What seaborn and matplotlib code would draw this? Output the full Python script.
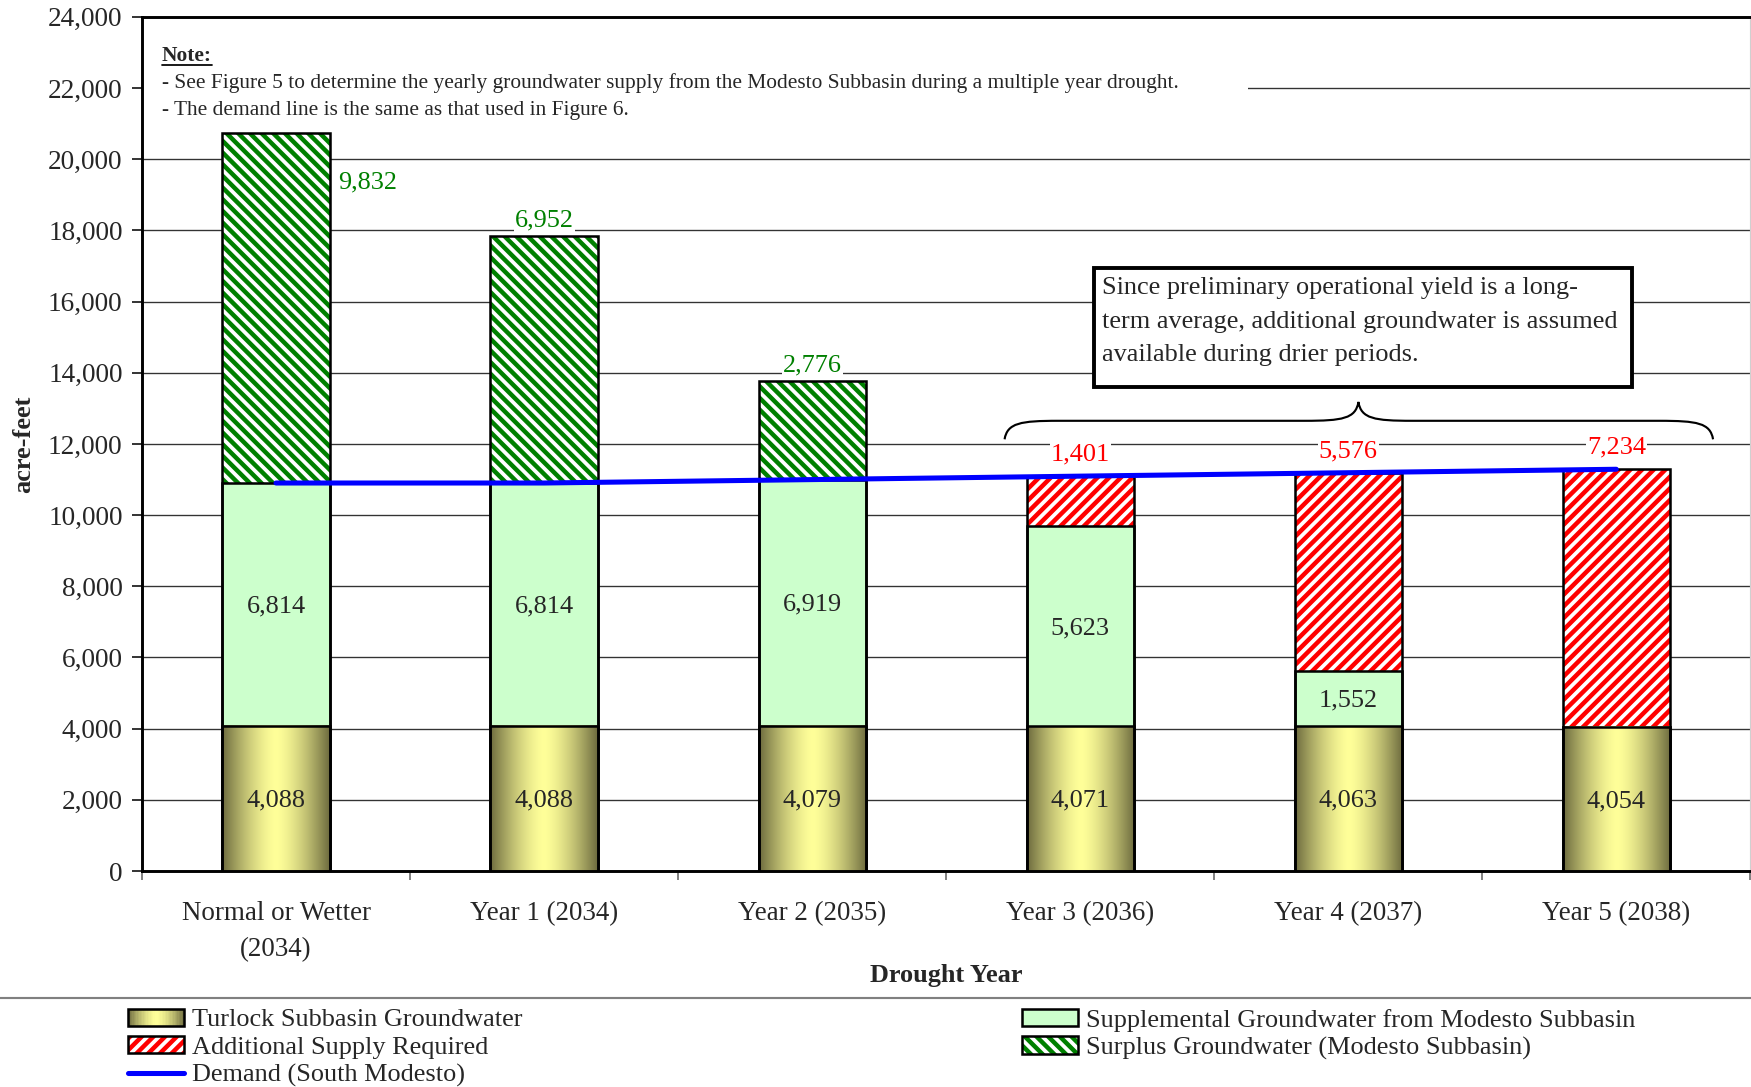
import numpy as np
import pandas as pd
import matplotlib
matplotlib.use("Agg")
import matplotlib.pyplot as plt
import seaborn as sns
from matplotlib.patches import Rectangle, Patch, PathPatch
from matplotlib.lines import Line2D
from matplotlib.path import Path
from matplotlib.legend_handler import HandlerBase, HandlerTuple
from matplotlib.ticker import FuncFormatter, FixedLocator

# ---- data (acre-feet) ----
categories = ["Normal or Wetter\n(2034)", "Year 1 (2034)", "Year 2 (2035)",
              "Year 3 (2036)", "Year 4 (2037)", "Year 5 (2038)"]
turlock = [4088, 4088, 4079, 4071, 4063, 4054]
supplemental = [6814, 6814, 6919, 5623, 1552, 0]
surplus = [9832, 6952, 2776, 0, 0, 0]
additional = [0, 0, 0, 1401, 5576, 7234]
yticks = list(range(0, 24001, 2000))

series_names = ["Turlock Subbasin Groundwater",
                "Supplemental Groundwater from Modesto Subbasin",
                "Additional Supply Required",
                "Surplus Groundwater (Modesto Subbasin)",
                "Demand (South Modesto)"]

note_lines = ["- See Figure 5 to determine the yearly groundwater supply from the Modesto Subbasin during a multiple year drought.",
              "- The demand line is the same as that used in Figure 6."]
box_text = ("Since preliminary operational yield is a long-\n"
            "term average, additional groundwater is assumed\n"
            "available during drier periods.")

# ---- derived stacks ----
df = pd.DataFrame({"cat": categories, "turlock": turlock, "supp": supplemental,
                   "surplus": surplus, "additional": additional})
df["base2"] = df["turlock"] + df["supp"]
df["demand"] = df["base2"] + df["additional"]
df["top"] = df["base2"] + df["surplus"] + df["additional"]

GREEN = "#008000"
RED = "#ff0000"
LIGHT_GREEN = "#ccffcc"
BLUE = "#0000ff"
EDGE_OLIVE = np.array([108, 106, 62]) / 255
MID_YELLOW = np.array([255, 255, 153]) / 255
HATCH_SURPLUS = "\\\\\\\\"
HATCH_ADDITIONAL = "////"

sns.set_style("white")
plt.rcParams["font.family"] = ["Liberation Serif", "DejaVu Serif"]
plt.rcParams["hatch.linewidth"] = 2.3

DPI = 140
fig = plt.figure(figsize=(1751 / DPI, 1087 / DPI), dpi=DPI)
ax = fig.add_axes([0.0811, 0.1987, 0.9185, 0.7858])

BAR_W = 0.4
EDGE_LW = 1.3

# top segment: hatched surplus / additional, full stack height
sns.barplot(x="cat", y="top", data=df, order=categories, color="white",
            saturation=1, width=BAR_W, linewidth=0, errorbar=None, ax=ax, zorder=2)
top_bars = ax.containers[-1]
for p, sp in zip(top_bars.patches, df["surplus"]):
    if sp > 0:
        p.set_hatch(HATCH_SURPLUS)
        p.set_edgecolor(GREEN)
    else:
        p.set_hatch(HATCH_ADDITIONAL)
        p.set_edgecolor(RED)
    p.set_linewidth(0)

# outline of the full stack
sns.barplot(x="cat", y="top", data=df, order=categories, color="black", fill=False,
            saturation=1, width=BAR_W, linewidth=EDGE_LW, errorbar=None, ax=ax, zorder=5)

# supplemental groundwater segment
sns.barplot(x="cat", y="base2", data=df, order=categories, color=LIGHT_GREEN,
            saturation=1, width=BAR_W, edgecolor="black", linewidth=EDGE_LW,
            errorbar=None, ax=ax, zorder=3)

# Turlock segment with a horizontal metallic gradient
sns.barplot(x="cat", y="turlock", data=df, order=categories, color="white",
            saturation=1, width=BAR_W, edgecolor="black", linewidth=EDGE_LW,
            errorbar=None, ax=ax, zorder=4)
t = np.linspace(-1, 1, 256)
w = 1 - np.abs(t) ** 1.5
grad = (EDGE_OLIVE[None, :] + (MID_YELLOW - EDGE_OLIVE)[None, :] * w[:, None])[None, :, :]
for p in ax.containers[-1].patches:
    x0, y0 = p.get_x(), p.get_y()
    ax.imshow(grad, extent=[x0, x0 + p.get_width(), y0, y0 + p.get_height()],
              aspect="auto", interpolation="bilinear", zorder=4.05)
    p.set_facecolor("none")
    p.set_zorder(4.1)

# demand line
sns.lineplot(x=np.arange(len(categories)), y=df["demand"].values, color=BLUE,
             linewidth=2.6, ax=ax, zorder=6)

ax.set_xlim(-0.5, len(categories) - 0.5)
ax.set_ylim(0, 24000)

# ---- value labels ----
FS = 13.5
for i, r in df.iterrows():
    ax.text(i, r["turlock"] / 2 - 60, f"{r['turlock']:,}", ha="center", va="center",
            fontsize=FS, zorder=7)
    if r["supp"] > 0:
        ax.text(i, r["turlock"] + r["supp"] / 2 - 60, f"{r['supp']:,}", ha="center",
                va="center", fontsize=FS, zorder=7)
    if r["surplus"] > 0:
        if i == 0:
            ax.text(i + BAR_W / 2 + 0.03, r["top"] - 1400, f"{r['surplus']:,}",
                    ha="left", va="center", fontsize=FS, color=GREEN, zorder=7)
        else:
            ax.text(i, r["top"] + 420, f"{r['surplus']:,}", ha="center", va="center",
                    fontsize=FS, color=GREEN, zorder=7,
                    bbox=dict(facecolor="white", edgecolor="none", pad=0.5))
    if r["additional"] > 0:
        ax.text(i, r["top"] + 600, f"{r['additional']:,}", ha="center", va="center",
                fontsize=FS, color=RED, zorder=7,
                bbox=dict(facecolor="white", edgecolor="none", pad=0.5))

# ---- axes styling ----
ax.yaxis.set_major_locator(FixedLocator(yticks))
ax.yaxis.set_major_formatter(FuncFormatter(lambda v, _: f"{int(v):,}"))
ax.grid(axis="y", color="#333333", linewidth=0.7)
ax.set_axisbelow(True)
ax.tick_params(axis="y", which="major", direction="out", length=5, width=0.8,
               color="black", labelsize=14, pad=5.0, left=True)
ax.set_xticks(range(len(categories)))
ax.set_xticklabels(categories, linespacing=1.6)
ax.tick_params(axis="x", which="major", length=0, labelsize=13.9, pad=15.5)
ax.set_xticks(np.arange(-0.5, len(categories), 1.0), minor=True)
ax.tick_params(axis="x", which="minor", direction="out", length=4.6, width=1.0,
               color="#808080", bottom=True)

for side in ["left", "bottom", "top"]:
    ax.spines[side].set_visible(True)
    ax.spines[side].set_color("black")
    ax.spines[side].set_linewidth(1.5)
ax.spines["right"].set_color("#d0d0d0")
ax.spines["right"].set_linewidth(0.6)

ax.set_ylabel("acre-feet", fontsize=13.5, fontweight="bold", va="center")
ax.yaxis.set_label_coords(-0.0735, 0.5)
ax.set_xlabel("Drought Year", fontsize=13.5, fontweight="bold", va="center")
ax.xaxis.set_label_coords(0.5, -0.1226)

# ---- note block ----
ax.add_patch(Rectangle((0, 0.85), 0.6874, 0.13, transform=ax.transAxes,
                       facecolor="white", edgecolor="none", zorder=1))
note_title = ax.text(0.0124, 0.9545, "Note:", transform=ax.transAxes, fontsize=11,
                     fontweight="bold", va="center", ha="left", zorder=7)
ax.text(0.0124, 0.9229, note_lines[0], transform=ax.transAxes, fontsize=11,
        va="center", ha="left", zorder=7)
ax.text(0.0124, 0.8900, note_lines[1], transform=ax.transAxes, fontsize=11,
        va="center", ha="left", zorder=7)

# ---- explanatory box and brace ----
ax.add_patch(Rectangle((0.5917, 0.5667), 0.335, 0.1394, transform=ax.transAxes,
                       facecolor="white", edgecolor="black", linewidth=2.0, zorder=7))
ax.text(0.5966, 0.6433, box_text, transform=ax.transAxes, fontsize=13.5,
        va="center", ha="left", linespacing=1.66, zorder=8)

xl, xr, xc = 2.718, 5.361, 4.038
ye, yh, ytip = 12130, 12650, 13180
brace = Path(
    [(xl, ye), (xl + 0.01, yh - 60), (xl + 0.06, yh), (xl + 0.2, yh),
     (xc - 0.2, yh),
     (xc - 0.06, yh), (xc - 0.01, yh + 60), (xc, ytip),
     (xc + 0.01, yh + 60), (xc + 0.06, yh), (xc + 0.2, yh),
     (xr - 0.2, yh),
     (xr - 0.06, yh), (xr - 0.01, yh - 60), (xr, ye)],
    [Path.MOVETO, Path.CURVE4, Path.CURVE4, Path.CURVE4,
     Path.LINETO,
     Path.CURVE4, Path.CURVE4, Path.CURVE4,
     Path.CURVE4, Path.CURVE4, Path.CURVE4,
     Path.LINETO,
     Path.CURVE4, Path.CURVE4, Path.CURVE4])
ax.add_patch(PathPatch(brace, fill=False, edgecolor="black", linewidth=1.1, zorder=7))

# ---- legend ----
class GradientHandler(HandlerBase):
    def create_artists(self, legend, orig_handle, xdescent, ydescent, width, height,
                       fontsize, trans):
        n = 40
        arts = []
        for k in range(n):
            tt = -1 + 2 * (k + 0.5) / n
            ww = 1 - abs(tt) ** 1.5
            c = EDGE_OLIVE + (MID_YELLOW - EDGE_OLIVE) * ww
            arts.append(Rectangle((-xdescent + width * k / n, -ydescent), width / n + 0.3,
                                  height, facecolor=c, edgecolor="none", transform=trans))
        arts.append(Rectangle((-xdescent, -ydescent), width, height, facecolor="none",
                              edgecolor="black", linewidth=1.3, transform=trans))
        return arts

grad_handle = Patch(facecolor=MID_YELLOW)
add_handle = (Patch(facecolor="white", edgecolor=RED, hatch=HATCH_ADDITIONAL, linewidth=0),
              Patch(facecolor="none", edgecolor="black", linewidth=1.3))
sur_handle = (Patch(facecolor="white", edgecolor=GREEN, hatch=HATCH_SURPLUS, linewidth=0),
              Patch(facecolor="none", edgecolor="black", linewidth=1.3))
sup_handle = Patch(facecolor=LIGHT_GREEN, edgecolor="black", linewidth=1.3)
dem_handle = Line2D([0], [0], color=BLUE, linewidth=2.6)

leg_kw = dict(loc="upper left", frameon=False, fontsize=13.5, borderpad=0,
              borderaxespad=0, handlelength=2.15, handleheight=0.62,
              handletextpad=0.3, labelspacing=0.19)
overlay = HandlerTuple(ndivide=1, pad=0)
leg1 = fig.legend([grad_handle, add_handle, dem_handle],
                  [series_names[0], series_names[2], series_names[4]],
                  bbox_to_anchor=(0.0731, 0.0722),
                  handler_map={grad_handle: GradientHandler(), tuple: overlay},
                  **leg_kw)
leg2 = fig.legend([sup_handle, sur_handle], [series_names[1], series_names[3]],
                  bbox_to_anchor=(0.5837, 0.0722),
                  handler_map={tuple: overlay}, **leg_kw)

fig.add_artist(Line2D([0, 1], [0.0815, 0.0815], transform=fig.transFigure,
                      color="#808080", linewidth=1.1))

# underline under the note title
fig.canvas.draw()
bb = note_title.get_window_extent().transformed(fig.transFigure.inverted())
fig.add_artist(Line2D([bb.x0, bb.x1], [bb.y0 + 0.001, bb.y0 + 0.001],
                      transform=fig.transFigure, color="black", linewidth=0.9))

fig.savefig("out.png", dpi=DPI)
